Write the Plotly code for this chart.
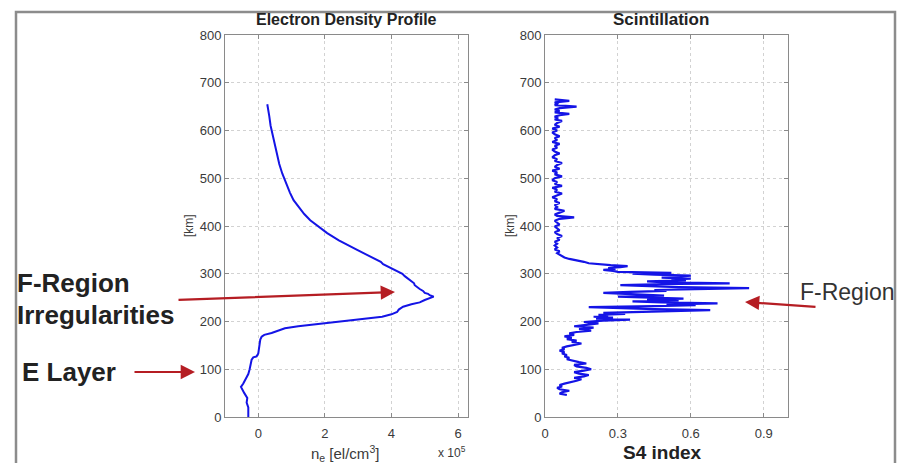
import plotly.graph_objects as go

# ---------------- data ----------------
ne_alt = [0, 10, 20, 30, 40, 50, 60, 63, 70, 80, 90, 100, 110, 120, 125, 127, 133, 145, 155, 162,
          168, 172, 176, 180, 186, 190, 195, 200, 205, 210, 215, 220, 225, 231, 236, 240, 245, 250,
          252, 255, 258, 260, 264, 268, 272, 276, 280, 284, 288, 291, 295, 300, 306, 312, 320, 325,
          332, 340, 350, 360, 370, 385, 400, 412, 425, 440, 454, 470, 490, 510, 530, 550, 570, 590,
          610, 630, 655]
ne_val = [-0.30, -0.31, -0.30, -0.35, -0.33, -0.42, -0.50, -0.52, -0.45, -0.38, -0.30, -0.26, -0.22,
          -0.20, -0.15, -0.05, 0.00, 0.02, 0.04, 0.06, 0.10, 0.18, 0.40, 0.58, 0.80, 1.20, 1.80, 2.47,
          3.10, 3.72, 4.00, 4.17, 4.22, 4.35, 4.60, 4.85, 5.00, 5.20, 5.27, 5.15, 5.10, 5.00, 4.95,
          4.85, 4.78, 4.70, 4.68, 4.60, 4.55, 4.47, 4.40, 4.33, 4.15, 3.95, 3.75, 3.68, 3.50, 3.25,
          2.97, 2.70, 2.42, 2.07, 1.78, 1.56, 1.38, 1.20, 1.06, 0.95, 0.83, 0.72, 0.63, 0.56, 0.49,
          0.42, 0.37, 0.33, 0.27]

s4_alt = [46, 49, 52, 55, 58, 61, 64, 67, 70, 73, 76, 79, 82, 85, 88, 91, 94, 97, 100, 103, 106, 109,
          112, 115, 118, 121, 124, 127, 130, 133, 136, 139, 142, 145, 148, 151, 154, 157, 160, 163,
          166, 169, 172, 175, 178, 181, 184, 187, 190, 193, 196, 199, 202, 204, 206, 208, 210, 212,
          214, 216, 218, 220, 222, 224, 226, 228, 230, 232, 234, 236, 238, 240, 242, 244, 246, 248,
          250, 252, 254, 256, 258, 260, 262, 264, 266, 268, 270, 272, 274, 276, 278, 280, 282, 284,
          286, 288, 290, 292, 294, 296, 298, 300, 302, 304, 306, 308, 310, 312, 314, 316, 318, 320,
          322, 325, 328, 331, 334, 337, 340, 343, 347, 351, 355, 359, 363, 367, 371, 375, 379, 383,
          387, 391, 395, 399, 403, 407, 411, 415, 418, 421, 424, 428, 432, 436, 440, 444, 448, 452,
          456, 460, 464, 468, 472, 476, 480, 484, 488, 492, 496, 500, 504, 508, 512, 516, 520, 524,
          528, 532, 536, 540, 544, 548, 552, 556, 560, 564, 568, 572, 576, 580, 584, 588, 592, 596,
          600, 604, 608, 612, 616, 620, 623, 626, 629, 632, 635, 638, 641, 644, 647, 650, 653, 656,
          659, 662, 665]
s4_val = [0.09, 0.06, 0.07, 0.10, 0.06, 0.05, 0.07, 0.06, 0.08, 0.11, 0.13, 0.15, 0.12, 0.16, 0.18,
          0.14, 0.12, 0.16, 0.19, 0.17, 0.13, 0.12, 0.17, 0.14, 0.11, 0.09, 0.10, 0.08, 0.09, 0.07,
          0.08, 0.06, 0.08, 0.07, 0.09, 0.12, 0.15, 0.11, 0.13, 0.09, 0.11, 0.08, 0.12, 0.10, 0.13,
          0.19, 0.14, 0.20, 0.12, 0.17, 0.22, 0.16, 0.24, 0.35, 0.21, 0.28, 0.20, 0.26, 0.22, 0.33,
          0.24, 0.40, 0.55, 0.68, 0.45, 0.30, 0.18, 0.45, 0.62, 0.50, 0.71, 0.48, 0.36, 0.55, 0.42,
          0.57, 0.40, 0.30, 0.49, 0.38, 0.27, 0.24, 0.35, 0.50, 0.45, 0.60, 0.84, 0.55, 0.40, 0.31,
          0.45, 0.76, 0.50, 0.42, 0.58, 0.52, 0.60, 0.48, 0.55, 0.60, 0.45, 0.36, 0.52, 0.30, 0.28,
          0.24, 0.29, 0.26, 0.31, 0.34, 0.27, 0.22, 0.18, 0.16, 0.12, 0.10, 0.08, 0.07, 0.06, 0.05,
          0.06, 0.04, 0.05, 0.04, 0.05, 0.04, 0.06, 0.05, 0.07, 0.05, 0.04, 0.06, 0.05, 0.04, 0.06,
          0.05, 0.04, 0.06, 0.12, 0.05, 0.04, 0.06, 0.08, 0.04, 0.05, 0.04, 0.06, 0.04, 0.05, 0.03,
          0.05, 0.07, 0.04, 0.05, 0.03, 0.07, 0.04, 0.05, 0.03, 0.04, 0.07, 0.04, 0.05, 0.03, 0.06,
          0.04, 0.05, 0.07, 0.04, 0.05, 0.03, 0.04, 0.06, 0.04, 0.03, 0.05, 0.04, 0.06, 0.03, 0.05,
          0.04, 0.06, 0.04, 0.03, 0.05, 0.03, 0.06, 0.04, 0.05, 0.07, 0.04, 0.05, 0.04, 0.06, 0.10,
          0.04, 0.06, 0.04, 0.06, 0.13, 0.04, 0.05, 0.04, 0.10, 0.04]

alt_ticks = [0, 100, 200, 300, 400, 500, 600, 700, 800]
ne_ticks = [0, 2, 4, 6]
s4_ticks = [0, 0.3, 0.6, 0.9]
s4_tick_labels = ["0", "0.3", "0.6", "0.9"]

# ---------------- figure ----------------
W, H = 899, 463
FONT = "Liberation Sans, Arial, sans-serif"
BLUE = "#1414e6"
RED = "#b51d23"
TXT = "#3a3a3a"


def px(x):
    return x / W


def py(y):
    return 1 - y / H


fig = go.Figure()
fig.add_trace(go.Scatter(x=ne_val, y=ne_alt, mode="lines",
                         line=dict(color=BLUE, width=2), xaxis="x", yaxis="y",
                         showlegend=False))
fig.add_trace(go.Scatter(x=s4_val, y=s4_alt, mode="lines",
                         line=dict(color=BLUE, width=2.2), xaxis="x2", yaxis="y2",
                         showlegend=False))

axis_common = dict(showline=True, linecolor="#8a8a8a", linewidth=1, mirror="ticks",
                   ticks="inside", ticklen=4, tickcolor="#8a8a8a", automargin=False,
                   showgrid=True, gridcolor="#d2d2d2", griddash="dot", gridwidth=1,
                   zeroline=False, tickfont=dict(family=FONT, size=13, color=TXT))

ydom = [py(417), py(35)]
fig.update_layout(
    width=W, height=H, margin=dict(l=0, r=0, t=0, b=0, autoexpand=False),
    paper_bgcolor="white", plot_bgcolor="white",
    xaxis=dict(domain=[px(225), px(468)], range=[-1, 6.3], tickvals=ne_ticks,
               anchor="y", ticklabelstandoff=4, **axis_common),
    yaxis=dict(domain=ydom, range=[0, 800], tickvals=alt_ticks, anchor="x", **axis_common),
    xaxis2=dict(domain=[px(545), px(788)], range=[0, 1], tickvals=s4_ticks,
                ticktext=s4_tick_labels, anchor="y2", ticklabelstandoff=4, **axis_common),
    yaxis2=dict(domain=ydom, range=[0, 800], tickvals=alt_ticks, anchor="x2", **axis_common),
)

# outer frame
fig.add_shape(type="rect", xref="paper", yref="paper",
              x0=px(16), x1=px(895), y0=py(480), y1=py(12),
              line=dict(color="#8c8c8c", width=2.5), fillcolor="rgba(0,0,0,0)")

ann = []


def text(x, y, t, size, bold=False, color=TXT, xanchor="center", angle=0):
    ann.append(dict(x=px(x), y=py(y), xref="paper", yref="paper", text=("<b>%s</b>" % t) if bold else t,
                    showarrow=False, xanchor=xanchor, yanchor="middle", textangle=angle,
                    font=dict(family=FONT, size=size, color=color)))


text(346, 19, "Electron Density Profile", 16, bold=True, color="#222")
text(661, 19, "Scintillation", 17, bold=True, color="#222")
text(345, 453, "n<sub>e</sub> [el/cm<sup>3</sup>]", 15)
text(452, 452, "x 10<sup>5</sup>", 12)
text(662, 452, "S4 index", 19, bold=True, color="#222")
text(189, 226, "[km]", 12, angle=-90)
text(510, 226, "[km]", 12, angle=-90)

text(15, 283, "F-Region", 26, bold=True, color="#222", xanchor="left")
text(15, 315, "Irregularities", 26, bold=True, color="#222", xanchor="left")
text(20, 372, "E Layer", 26, bold=True, color="#222", xanchor="left")
text(798, 292, "F-Region", 23, color="#333", xanchor="left")


def arrow(x0, y0, x1, y1):
    ann.append(dict(x=px(x1), y=py(y1), xref="paper", yref="paper", ax=x0 - x1, ay=y0 - y1,
                    axref="pixel", ayref="pixel", text="", showarrow=True, arrowhead=2,
                    arrowsize=1.3, arrowwidth=2.2, arrowcolor=RED))


arrow(177, 300, 395, 292)
arrow(133, 372, 195, 372)
arrow(817, 307, 745, 302)

fig.update_layout(annotations=ann)
fig.write_html("out.html")
